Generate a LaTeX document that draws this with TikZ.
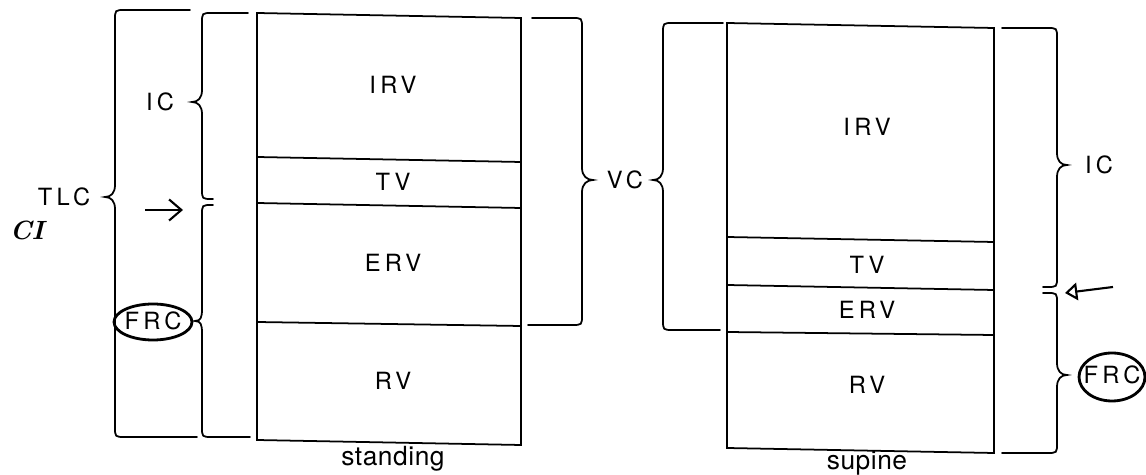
\documentclass[tikz,border=0pt]{standalone}
\usepackage{fontspec}
\newfontfamily\volfont[LetterSpace=18]{TeX Gyre Heros}
\newfontfamily\capfont[LetterSpace=2]{TeX Gyre Heros}
\usetikzlibrary{arrows.meta}

% curly brace: top arm x, spine x, tip x, top y, tip y, bottom y, bottom arm x
\newcommand{\curlybrace}[7]{%
  \draw[brc] (#1,#4) -- ({#2+10*sign(#1-#2)},#4)
    .. controls (#2,#4) .. (#2,{#4+10})
    -- (#2,{#5-12})
    .. controls (#2,{#5-4}) and ({#3+6*sign(#2-#3)},#5) .. (#3,#5)
    .. controls ({#3+6*sign(#2-#3)},#5) and (#2,{#5+4}) .. (#2,{#5+12})
    -- (#2,{#6-10})
    .. controls (#2,#6) .. ({#2+10*sign(#7-#2)},#6) -- (#7,#6);}

\begin{document}
\begin{tikzpicture}[x=0.02cm, y=-0.02cm,
  box/.style={line width=1pt},
  brc/.style={line width=1pt, line cap=round},
  ring/.style={line width=1.6pt},
  lbl/.style={font=\volfont\fontsize{13.5}{14}\selectfont},
  captext/.style={font=\capfont\fontsize{15}{15}\selectfont}]
\useasboundingbox (0,0) rectangle (1146,475);

% standing
\draw[box] (257,13) -- (521,18) -- (521,445) -- (257,440) -- cycle;
\draw[box] (257,157) -- (521,162);
\draw[box] (257,203) -- (521,208);
\draw[box] (257,322) -- (521,326);
\node[lbl] (sIRV) at (393,85)  {IRV};
\node[lbl] (sTV)  at (393,182) {TV};
\node[lbl] (sERV) at (393,263) {ERV};
\node[lbl] (sRV)  at (393,381) {RV};
\node[captext] (stand) at (393,459) {standing};

% supine
\draw[box] (727,23) -- (994,28) -- (994,453) -- (727,448) -- cycle;
\draw[box] (727,237) -- (994,242);
\draw[box] (727,285) -- (994,290);
\draw[box] (727,332) -- (994,335);
\node[lbl] (pIRV) at (867,127) {IRV};
\node[lbl] (pTV)  at (867,265) {TV};
\node[lbl] (pERV) at (867,310) {ERV};
\node[lbl] (pRV)  at (867,385) {RV};
\node[captext] (sup) at (867,463) {supine};

% braces
\curlybrace{190}{115}{105}{10}{197}{437}{197}
\curlybrace{248}{202}{192}{13}{102}{199}{213}
\curlybrace{213}{202}{195}{205}{321}{437}{250}
\curlybrace{532}{582}{593}{18}{180}{325}{528}
\curlybrace{723}{663}{653}{23}{180}{330}{720}
\curlybrace{1002}{1057}{1067}{28}{165}{287}{1043}
\curlybrace{1043}{1057}{1067}{293}{375}{453}{1002}

% capacities
\node[lbl] (tlc) at (64,197)   {TLC};
\node[lbl] (icS) at (160,102)  {IC};
\node[lbl] (frcS) at (153,321) {FRC};
\node[lbl] (vc)  at (625,180)  {VC};
\node[lbl] (icP) at (1099,165) {IC};
\node[lbl] (frcP) at (1112,375) {FRC};
\node (ci) at (27,230) {\fontsize{15}{15}\selectfont\bfseries\itshape CI};

% pen marks
\draw[ring] (153,322) ellipse [x radius=39, y radius=18];
\draw[ring] (1112,377) ellipse [x radius=33, y radius=24];
\coordinate (aL1) at (145,210);
\coordinate (aL2) at (183,210);
\draw[line width=1.2pt, -{Straight Barb[length=7pt,width=12pt]}] (aL1) -- (aL2);
\coordinate (aR1) at (1113,287);
\coordinate (aR2) at (1065,293);
\draw[line width=1.2pt, -{Triangle[open,length=7pt,width=10pt]}] (aR1) -- (aR2);
\end{tikzpicture}
\end{document}
